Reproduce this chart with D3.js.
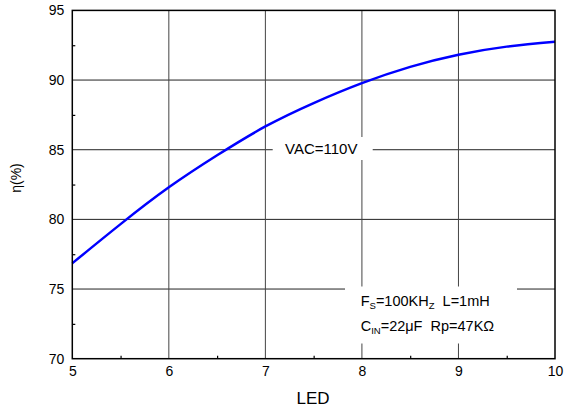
<!DOCTYPE html>
<html>
<head>
<meta charset="utf-8">
<script src="https://cdn.jsdelivr.net/npm/d3@7"></script>
<style>
  html, body { margin: 0; padding: 0; background: #fff; }
  svg { display: block; font-family: "Liberation Sans", Arial, sans-serif; }
</style>
</head>
<body>
<svg id="chart" width="567" height="410"></svg>
<script>
// ---- data ----
const ledCount = [5, 5.5, 6, 6.5, 7, 7.5, 8, 8.5, 9, 9.5, 10];
const efficiency = [76.85, 79.66, 82.3, 84.6, 86.67, 88.35, 89.78, 90.95, 91.82, 92.4, 92.75];
const xTicks = [5, 6, 7, 8, 9, 10];
const yTicks = [70, 75, 80, 85, 90, 95];
const xMinor = [5.5, 6.5, 7.5, 8.5, 9.5];
const yMinor = [72.5, 77.5, 82.5, 87.5, 92.5];
const xLabel = "LED";
const yLabel = "η(%)";

const svg = d3.select("#chart");
const x = d3.scaleLinear().domain([5, 10]).range([72.3, 555]);
const y = d3.scaleLinear().domain([70, 95]).range([358.7, 10.4]);

// gridlines
const grid = svg.append("g");
grid.selectAll("line.h").data(yTicks.slice(1, -1)).join("line")
  .attr("x1", x(5)).attr("x2", x(10))
  .attr("y1", d => y(d)).attr("y2", d => y(d))
  .attr("stroke", "#222").attr("stroke-width", 1);
grid.selectAll("line.v").data(xTicks.slice(1, -1)).join("line")
  .attr("y1", y(70)).attr("y2", y(95))
  .attr("x1", d => x(d)).attr("x2", d => x(d))
  .attr("stroke", "#444").attr("stroke-width", 1);

// curve
const pts = ledCount.map((d, i) => [d, efficiency[i]]);
svg.append("path")
  .datum(pts)
  .attr("fill", "none")
  .attr("stroke", "#0000ff")
  .attr("stroke-width", 2.5)
  .attr("d", d3.line().x(d => x(d[0])).y(d => y(d[1])).curve(d3.curveNatural));

// annotation boxes
svg.append("rect").attr("x", 272.7).attr("y", 137).attr("width", 100).attr("height", 23).attr("fill", "#fff");
svg.append("text").attr("x", 285).attr("y", 154).attr("font-size", 15).attr("fill", "#000").text("VAC=110V");

svg.append("rect").attr("x", 345).attr("y", 286.5).attr("width", 172).attr("height", 57).attr("fill", "#fff");
const t1 = svg.append("text").attr("x", 360.7).attr("y", 306).attr("font-size", 14.5).attr("fill", "#000");
t1.append("tspan").text("F");
t1.append("tspan").attr("font-size", 9.5).attr("dy", 3).text("S");
t1.append("tspan").attr("dy", -3).text("=100KH");
t1.append("tspan").attr("font-size", 9.5).attr("dy", 3).text("Z");
t1.append("tspan").attr("dy", -3).text("\u00a0 L=1mH");
const t2 = svg.append("text").attr("x", 360.7).attr("y", 331).attr("font-size", 14.5).attr("fill", "#000");
t2.append("tspan").text("C");
t2.append("tspan").attr("font-size", 9.5).attr("dy", 3).text("IN");
t2.append("tspan").attr("dy", -3).text("=22μF\u00a0 Rp=47KΩ");

// frame
svg.append("rect")
  .attr("x", x(5)).attr("y", y(95))
  .attr("width", x(10) - x(5)).attr("height", y(70) - y(95))
  .attr("fill", "none").attr("stroke", "#000").attr("stroke-width", 1.5);

// minor ticks (inward)
svg.append("g").attr("transform", `translate(0,${y(70)})`)
  .call(d3.axisBottom(x).tickValues(xMinor).tickSize(-3).tickFormat(""))
  .call(g => g.select(".domain").remove())
  .call(g => g.selectAll("line").attr("stroke", "#000").attr("stroke-width", 1.2));
svg.append("g").attr("transform", `translate(${x(5)},0)`)
  .call(d3.axisLeft(y).tickValues(yMinor).tickSize(-3).tickFormat(""))
  .call(g => g.select(".domain").remove())
  .call(g => g.selectAll("line").attr("stroke", "#000").attr("stroke-width", 1.2));

// tick labels
svg.append("g").attr("transform", `translate(0,${y(70)})`)
  .call(d3.axisBottom(x).tickValues(xTicks).tickSize(0).tickPadding(7).tickFormat(d3.format("d")))
  .call(g => g.select(".domain").remove())
  .call(g => g.selectAll("text").attr("font-size", 14).attr("font-family", "Liberation Sans, Arial, sans-serif").attr("fill", "#000"));
svg.append("g").attr("transform", `translate(${x(5)},0)`)
  .call(d3.axisLeft(y).tickValues(yTicks).tickSize(0).tickPadding(8).tickFormat(d3.format("d")))
  .call(g => g.select(".domain").remove())
  .call(g => g.selectAll("text").attr("font-size", 14).attr("font-family", "Liberation Sans, Arial, sans-serif").attr("fill", "#000"));

// axis titles
svg.append("text").attr("x", 313).attr("y", 404).attr("text-anchor", "middle")
  .attr("font-size", 17).attr("fill", "#000").text(xLabel);
svg.append("text").attr("transform", "translate(21,178) rotate(-90)").attr("text-anchor", "middle")
  .attr("font-size", 14).attr("fill", "#000").text(yLabel);
</script>
</body>
</html>
